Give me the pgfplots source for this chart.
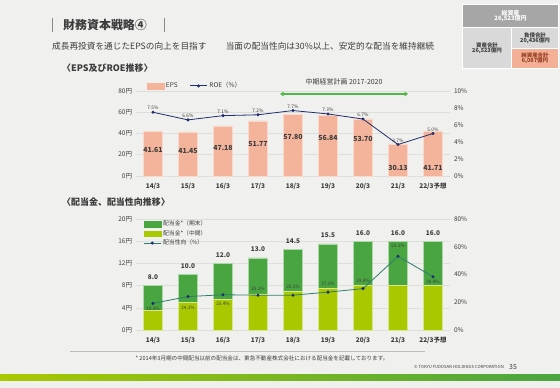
\documentclass[border=0pt]{standalone}
\usepackage{pgfplots}
\pgfplotsset{compat=1.18}
\usepackage{fontspec}
\setmainfont{Noto Sans CJK JP}
\usetikzlibrary{arrows.meta}
\definecolor{bg}{RGB}{240,240,238}
\definecolor{salmon}{RGB}{244,180,156}
\definecolor{navy}{RGB}{31,47,110}
\definecolor{dgreen}{RGB}{72,165,64}
\definecolor{lgreen}{RGB}{170,200,0}
\definecolor{tealc}{RGB}{46,125,110}
\definecolor{txt}{RGB}{60,60,60}
\definecolor{gridc}{RGB}{222,222,220}
\definecolor{arrowg}{RGB}{80,185,70}
\definecolor{boxg}{RGB}{166,166,166}
\definecolor{boxl}{RGB}{217,217,217}
\definecolor{boxs}{RGB}{244,176,150}
\definecolor{boxr}{RGB}{150,60,30}
\newcommand{\fs}[1]{\fontsize{#1}{#1}\selectfont}
\tikzset{
  epsl/.style={font=\fs{7}\bfseries, text=txt, inner sep=0},
  roel/.style={font=\fs{4.8}, text=txt, inner sep=0, anchor=south, yshift=2bp},
  dkl/.style={font=\fs{6.5}\bfseries, text=txt, inner sep=0},
  whl/.style={font=\fs{7.5}\bfseries, text=white, inner sep=0},
  pol/.style={font=\fs{4.6}, text=txt, inner sep=0},
}
\pgfplotsset{
  common/.style={anchor=south west, scale only axis, width=315bp,
    xmin=-0.5, xmax=8.5, clip=false,
    axis line style={draw=none}, tick style={draw=none}, major tick length=0pt,
    xtick={0,...,8},
    yticklabel style={font=\fs{6.5}, text=txt},
    xticklabel style={font=\fs{6.5}\bfseries, text=txt, anchor=north, text height=5bp, text depth=1bp, yshift=-3.5bp}},
}
\begin{document}
\begin{tikzpicture}
\fill[bg] (0bp,0bp) rectangle (560bp,388bp);
% ---------- header ----------
\draw[txt!60, line width=0.7bp] (52bp,370bp) -- (52bp,356bp);
\draw[txt!60, line width=0.7bp] (164bp,370bp) -- (164bp,356bp);
\node[anchor=west, font=\fs{12}\bfseries, text=txt, inner sep=0] at (63bp,363bp) {財務資本戦略④};
\node[anchor=west, font=\fs{8.7}, text=txt, inner sep=0] at (52bp,342bp) {成長再投資を通じたEPSの向上を目指す\quad\quad\ 当面の配当性向は30\%以上、安定的な配当を維持継続};
\node[anchor=west, font=\fs{9}\bfseries, text=txt, inner sep=0] at (62bp,320bp) {〈EPS及びROE推移〉};
\node[anchor=west, font=\fs{9}\bfseries, text=txt, inner sep=0] at (62bp,186bp) {〈配当金、配当性向推移〉};
% ---------- top-right box ----------
\fill[white] (462bp,384bp) rectangle (559bp,319bp);
\fill[boxg] (463bp,383bp) rectangle (558bp,361bp);
\fill[boxl] (463bp,360bp) rectangle (511bp,320bp);
\fill[boxl] (512bp,360bp) rectangle (558bp,340bp);
\fill[boxs] (512bp,339bp) rectangle (558bp,320bp);
\node[align=center, font=\fs{6}\bfseries, text=white, inner sep=0] at (510.5bp,372bp) {総資産\\[-0.5bp]26,523億円};
\node[align=center, font=\fs{5.5}\bfseries, text=txt, inner sep=0] at (487bp,340bp) {資産合計\\[-0.5bp]26,523億円};
\node[align=center, font=\fs{5.5}\bfseries, text=txt, inner sep=0] at (535bp,350bp) {負債合計\\[-0.5bp]20,436億円};
\node[align=center, font=\fs{5.5}\bfseries, text=boxr, inner sep=0] at (535bp,329.5bp) {純資産合計\\[-0.5bp]6,087億円};
% ---------- chart 1 ----------
\begin{axis}[common, at={(135.5bp,212bp)}, height=85bp, ymin=0, ymax=80,
  ymajorgrids, grid style={draw=gridc, line width=0.5bp},
  ytick={0,20,40,60,80}, yticklabels={0円,20円,40円,60円,80円},
  xticklabels={14/3,15/3,16/3,17/3,18/3,19/3,20/3,21/3,22/3予想},
  ybar, bar width=19bp]
\addplot[fill=salmon, draw=salmon!50!white, line width=0.6bp] coordinates {
(0,41.61) (1,41.45) (2,47.18) (3,51.77) (4,57.80) (5,56.84) (6,53.70) (7,30.13) (8,41.71)};
\node[epsl] at (axis cs:0,24.8) {41.61};
\node[epsl] at (axis cs:1,23.8) {41.45};
\node[epsl] at (axis cs:2,26) {47.18};
\node[epsl] at (axis cs:3,30) {51.77};
\node[epsl] at (axis cs:4,36.7) {57.80};
\node[epsl] at (axis cs:5,36) {56.84};
\node[epsl] at (axis cs:6,35) {53.70};
\node[epsl] at (axis cs:7,7.2) {30.13};
\node[epsl] at (axis cs:8,7.2) {41.71};
\end{axis}
\begin{axis}[common, at={(135.5bp,212bp)}, height=85bp, ymin=0, ymax=10,
  axis x line=none, axis y line*=right,
  ytick={0,2,4,6,8,10}, yticklabels={0\%,2\%,4\%,6\%,8\%,10\%},
  legend style={at={(0.025,1.06)}, anchor=west, draw=none, fill=none,
    legend columns=2, font=\fs{6.5}, text=txt,
    /tikz/every even column/.append style={column sep=10bp}}]
\addlegendimage{area legend, fill=salmon, draw=salmon}
\addlegendentry{EPS}
\addplot[navy, line width=0.8bp, mark=*, mark size=1.1bp] coordinates {
(0,7.5) (1,6.6) (2,7.1) (3,7.2) (4,7.7) (5,7.3) (6,6.7) (7,3.7) (8,5.0)};
\addlegendentry{ROE（\%）}
\node[roel] at (axis cs:0,7.5) {7.5\%};
\node[roel] at (axis cs:1,6.6) {6.6\%};
\node[roel] at (axis cs:2,7.1) {7.1\%};
\node[roel] at (axis cs:3,7.2) {7.2\%};
\node[roel] at (axis cs:4,7.7) {7.7\%};
\node[roel] at (axis cs:5,7.3) {7.3\%};
\node[roel] at (axis cs:6,6.7) {6.7\%};
\node[roel] at (axis cs:7,3.7) {3.7\%};
\node[roel] at (axis cs:8,5.0) {5.0\%};
\draw[{Triangle[length=3.5bp,width=4.5bp]}-{Triangle[length=3.5bp,width=4.5bp]}, arrowg, line width=1.3bp] (axis cs:3.63,9.65) -- (axis cs:7.29,9.65);
\node[font=\fs{7}, text=txt, inner sep=0] at (axis cs:5.46,11.05) {中期経営計画 2017-2020};
\end{axis}
% ---------- chart 2 ----------
\begin{axis}[common, at={(135.5bp,58bp)}, height=111bp, ymin=0, ymax=20,
  ymajorgrids, grid style={draw=gridc, line width=0.5bp},
  ytick={0,4,8,12,16,20}, yticklabels={0円,4円,8円,12円,16円,20円},
  xticklabels={14/3,15/3,16/3,17/3,18/3,19/3,20/3,21/3,22/3予想},
  ybar stacked, bar width=19bp]
\addplot[fill=lgreen, draw=lgreen!45!white, line width=0.6bp] coordinates {
(0,3.5) (1,5.0) (2,5.5) (3,6.5) (4,7.0) (5,7.5) (6,8.0) (7,8.0) (8,8.0)};
\addplot[fill=dgreen, draw=dgreen!45!white, line width=0.6bp] coordinates {
(0,4.5) (1,5.0) (2,6.5) (3,6.5) (4,7.5) (5,8.0) (6,8.0) (7,8.0) (8,8.0)};
\node[dkl] at (axis cs:0,1.5) {3.5};
\node[dkl] at (axis cs:1,1.5) {5.0};
\node[dkl] at (axis cs:2,1.5) {5.5};
\node[dkl] at (axis cs:3,1.5) {6.5};
\node[dkl] at (axis cs:4,1.5) {7.0};
\node[dkl] at (axis cs:5,1.5) {7.5};
\node[dkl] at (axis cs:6,1.5) {8.0};
\node[dkl] at (axis cs:7,1.5) {8.0};
\node[dkl] at (axis cs:8,1.5) {8.0};
\node[dkl] at (axis cs:0,9.5) {8.0};
\node[dkl] at (axis cs:1,11.5) {10.0};
\node[dkl] at (axis cs:2,13.5) {12.0};
\node[dkl] at (axis cs:3,14.5) {13.0};
\node[dkl] at (axis cs:4,16.0) {14.5};
\node[dkl] at (axis cs:5,17.0) {15.5};
\node[dkl] at (axis cs:6,17.5) {16.0};
\node[dkl] at (axis cs:7,17.5) {16.0};
\node[dkl] at (axis cs:8,17.5) {16.0};
\node[whl] at (axis cs:0,5.7) {4.5};
\node[whl] at (axis cs:1,9.2) {5.0};
\node[whl] at (axis cs:2,8.7) {6.5};
\node[whl] at (axis cs:3,9.85) {6.5};
\node[whl] at (axis cs:4,10.75) {7.5};
\node[whl] at (axis cs:5,11.5) {8.0};
\node[whl] at (axis cs:6,12) {8.0};
\node[whl] at (axis cs:7,12) {8.0};
\node[whl] at (axis cs:8,12) {8.0};
\end{axis}
\begin{axis}[common, at={(135.5bp,58bp)}, height=111bp, ymin=0, ymax=80,
  axis x line=none, axis y line*=right,
  ytick={0,20,40,60,80}, yticklabels={0\%,20\%,40\%,60\%,80\%},
  legend style={at={(0.015,1.02)}, anchor=north west, draw=none, fill=none,
    legend columns=1, font=\fs{5.8}, text=txt, legend cell align=left,
    row sep=-1bp}]
\addlegendimage{area legend, fill=dgreen, draw=dgreen}
\addlegendentry{配当金*（期末）}
\addlegendimage{area legend, fill=lgreen, draw=lgreen}
\addlegendentry{配当金*（中間）}
\addplot[tealc, line width=0.8bp, mark=*, mark size=1.1bp, mark options={navy}] coordinates {
(0,19.2) (1,24.1) (2,25.4) (3,25.1) (4,25.1) (5,27.3) (6,29.8) (7,53.1) (8,38.4)};
\addlegendentry{配当性向（\%）}
\node[pol] at (axis cs:0,15.1) {19.2\%};
\node[pol] at (axis cs:1,16.1) {24.1\%};
\node[pol] at (axis cs:2,18.7) {25.4\%};
\node[pol] at (axis cs:3,29.5) {25.1\%};
\node[pol] at (axis cs:4,31.2) {25.1\%};
\node[pol] at (axis cs:5,33.2) {27.3\%};
\node[pol] at (axis cs:6,35.5) {29.8\%};
\node[pol] at (axis cs:7,60.5) {53.1\%};
\node[pol] at (axis cs:8,34.4) {38.4\%};
\end{axis}
% ---------- footer ----------
\draw[gridc!85!black, line width=0.5bp] (70bp,37bp) -- (425bp,37bp);
\node[font=\fs{5.6}, text=txt, inner sep=0] at (262bp,30bp) {* 2014年3月期の中間配当以前の配当金は、東急不動産株式会社における配当金を記載しております。};
\node[anchor=east, font=\fs{4.2}, text=txt, inner sep=0] at (504bp,21bp) {© TOKYU FUDOSAN HOLDINGS CORPORATION};
\node[anchor=west, font=\fs{7}, text=txt, inner sep=0] at (509bp,21bp) {35};
\shade[left color=lgreen, right color=dgreen] (0bp,7bp) rectangle (560bp,13bp);
\end{tikzpicture}
\end{document}
